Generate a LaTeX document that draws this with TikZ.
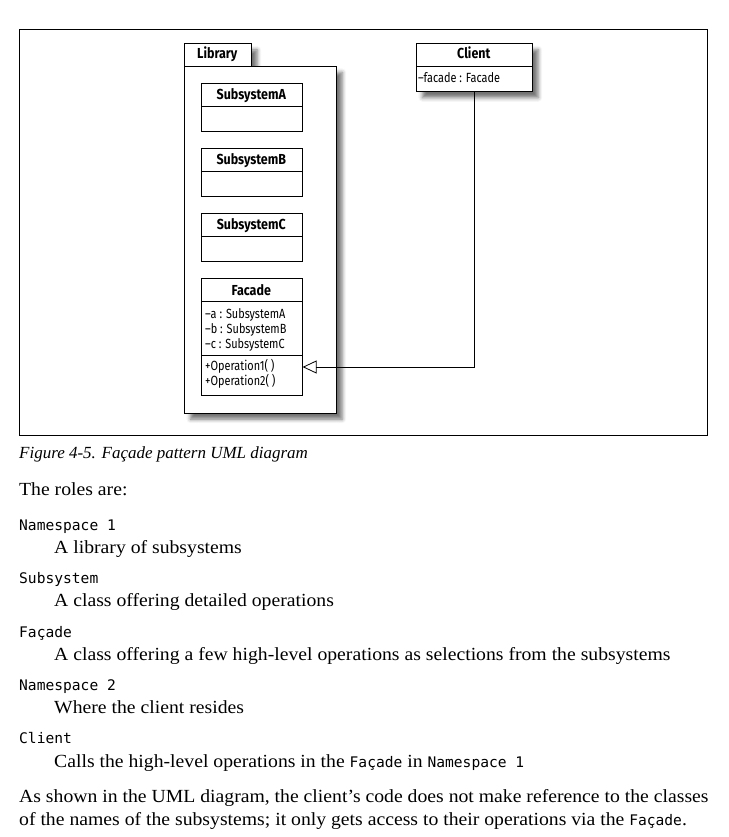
\documentclass[tikz,border=0pt]{standalone}
\usepackage{fontspec}
\setmainfont[FakeStretch=1.065]{Liberation Serif}
\setmonofont{DejaVu Sans Mono}
\newfontfamily\umltitlefont[FakeStretch=0.86]{Fira Sans}
\newfontfamily\umlattrfont[FakeStretch=0.82]{Fira Sans}
\newfontfamily\capfont{Liberation Serif}
\usetikzlibrary{arrows.meta,shadows.blur}
\tikzset{
  frame/.style={draw=black, line width=1pt, inner sep=0, anchor=north west},
  pkgbox/.style={draw=black, line width=0.9pt, fill=white, inner sep=0, anchor=north west,
    blur shadow={shadow xshift=6pt, shadow yshift=-6pt, shadow blur radius=4pt, shadow opacity=55}},
  clsbox/.style={draw=black, line width=0.9pt, fill=white, inner sep=0, anchor=north west},
  divider/.style={draw=black, line width=0.9pt},
  umltitle/.style={anchor=base, inner sep=0, font=\umltitlefont\bfseries\fontsize{14.5}{16}\selectfont},
  umlattr/.style={anchor=base west, inner sep=0, font=\umlattrfont\fontsize{13.3}{15}\selectfont},
  conn/.style={draw=black, line width=0.8pt, -{Triangle[open, length=14pt, width=13pt]}},
  bodytext/.style={anchor=base west, inner sep=0, font=\fontsize{18.5}{22}\selectfont},
  captext/.style={anchor=base west, inner sep=0, font=\capfont\itshape\fontsize{17}{20}\selectfont},
  codetext/.style={anchor=base west, inner sep=0, font=\ttfamily\fontsize{14.6}{17}\selectfont},
}
\begin{document}
\begin{tikzpicture}[x=1pt,y=-1pt]
\useasboundingbox (0,0) rectangle (728,837);
% outer frame
\node[frame, minimum width=688pt, minimum height=406pt] (frm) at (19,29) {};
% Library package
\node[pkgbox, minimum width=66.7pt, minimum height=22.7pt] (libtab) at (184,43.5) {};
\node[pkgbox, minimum width=151.7pt, minimum height=346.7pt] (lib) at (184,66) {};
\node[umltitle] (libname) at (217.3,59) {Library};
% Subsystem A
\node[clsbox, minimum width=100.7pt, minimum height=48pt] (subA) at (201,83.3) {};
\coordinate (subAdiv) at (0,106.7);
\draw[divider] (subA.west |- subAdiv) -- (subA.east |- subAdiv);
\node[umltitle] (subAname) at (251.3,99.5) {SubsystemA};
% Subsystem B
\node[clsbox, minimum width=100.7pt, minimum height=48pt] (subB) at (201,148.3) {};
\coordinate (subBdiv) at (0,171.7);
\draw[divider] (subB.west |- subBdiv) -- (subB.east |- subBdiv);
\node[umltitle] (subBname) at (251.3,164.5) {SubsystemB};
% Subsystem C
\node[clsbox, minimum width=100.7pt, minimum height=48pt] (subC) at (201,213.3) {};
\coordinate (subCdiv) at (0,236.7);
\draw[divider] (subC.west |- subCdiv) -- (subC.east |- subCdiv);
\node[umltitle] (subCname) at (251.3,229.5) {SubsystemC};
% Facade
\node[clsbox, minimum width=100.7pt, minimum height=117pt] (fac) at (201,278.3) {};
\coordinate (facdiv1) at (0,301.7);
\coordinate (facdiv2) at (0,355.3);
\draw[divider] (fac.west |- facdiv1) -- (fac.east |- facdiv1);
\draw[divider] (fac.west |- facdiv2) -- (fac.east |- facdiv2);
\node[umltitle] (facname) at (251.3,295.5) {Facade};
\node[umlattr] (faca) at (205,318) {–a : SubsystemA};
\node[umlattr] (facb) at (205,333) {–b : SubsystemB};
\node[umlattr] (facc) at (205,348) {–c : SubsystemC};
\node[umlattr] (facop1) at (205,370) {+Operation1( )};
\node[umlattr] (facop2) at (205,385) {+Operation2( )};
% Client
\node[pkgbox, minimum width=115.7pt, minimum height=48pt] (cli) at (416,43.3) {};
\coordinate (clidiv) at (0,66.7);
\draw[divider] (cli.west |- clidiv) -- (cli.east |- clidiv);
\node[umltitle] (cliname) at (473.8,59) {Client};
\node[umlattr] (clifac) at (418,83) {–facade : Facade};
% connector
\coordinate (opline) at (0,367);
\draw[conn] (cli.south) |- (fac.east |- opline);
% text below
\node[captext] (cap) at (19,458) {Figure 4-5. Façade pattern UML diagram};
\node[bodytext] (roles) at (19,495) {The roles are:};
\node[codetext] (t1) at (19,530) {Namespace 1};
\node[bodytext] (d1) at (54,553) {A library of subsystems};
\node[codetext] (t2) at (19,583) {Subsystem};
\node[bodytext] (d2) at (54,606) {A class offering detailed operations};
\node[codetext] (t3) at (19,637) {Façade};
\node[bodytext] (d3) at (54,660) {A class offering a few high-level operations as selections from the subsystems};
\node[codetext] (t4) at (19,690) {Namespace 2};
\node[bodytext] (d4) at (54,713) {Where the client resides};
\node[codetext] (t5) at (19,743) {Client};
\node[bodytext] (d5) at (54,767) {Calls the high-level operations in the {\ttfamily\fontsize{14.6}{17}\selectfont Façade} in {\ttfamily\fontsize{14.6}{17}\selectfont Namespace 1}};
\node[bodytext] (p1) at (19,802) {As shown in the UML diagram, the client’s code does not make reference to the classes};
\node[bodytext] (p2) at (19,825) {of the names of the subsystems; it only gets access to their operations via the {\ttfamily\fontsize{14.6}{17}\selectfont Façade}.};
\end{tikzpicture}
\end{document}
